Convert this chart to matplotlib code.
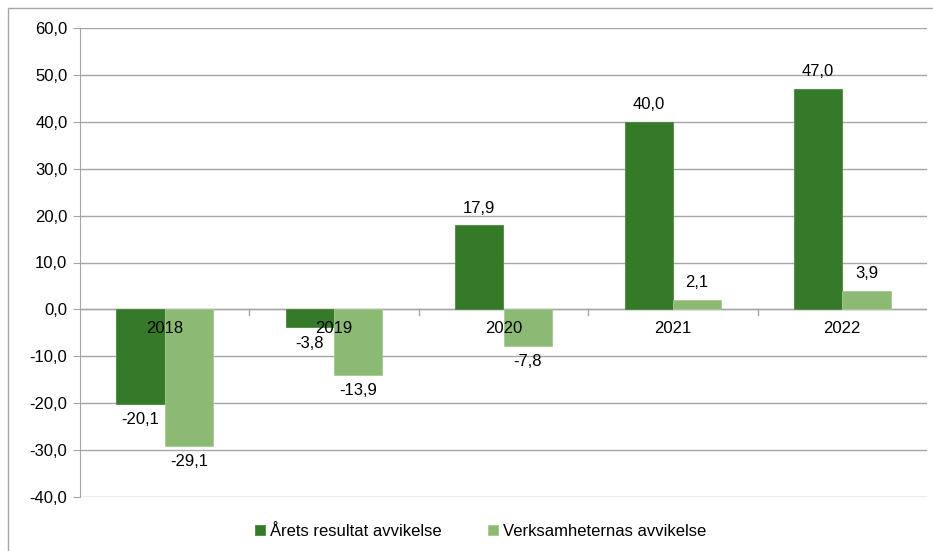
import matplotlib.pyplot as plt
import numpy as np
from matplotlib.patches import Rectangle

plt.rcParams['font.family'] = ['Liberation Sans', 'DejaVu Sans']

years = ["2018", "2019", "2020", "2021", "2022"]
arets = [-20.1, -3.8, 17.9, 40.0, 47.0]
verks = [-29.1, -13.9, -7.8, 2.1, 3.9]
series_names = ["Årets resultat avvikelse", "Verksamheternas avvikelse"]

dark = "#357a29"
light = "#8cba74"
fs = 12

def fmt(v):
    return f"{v:.1f}".replace(".", ",")

fig = plt.figure(figsize=(9.33, 5.51), dpi=100)
ax = fig.add_axes([80 / 933, 1 - 497 / 551, 847 / 933, 469 / 551])

x = np.arange(len(years))
w = 0.285
b1 = ax.bar(x - w / 2, arets, w, color=dark, edgecolor="#4a8a3e", linewidth=0.6,
            label=series_names[0], zorder=3)
b2 = ax.bar(x + w / 2, verks, w, color=light, edgecolor="#a3cc90", linewidth=0.6,
            label=series_names[1], zorder=3)

for bars, vals in ((b1, arets), (b2, verks)):
    for r, v in zip(bars, vals):
        cx = r.get_x() + r.get_width() / 2
        if v >= 0:
            ax.annotate(fmt(v), (cx, v), xytext=(0, 7), textcoords="offset points",
                        ha="center", va="bottom", fontsize=fs)
        else:
            ax.annotate(fmt(v), (cx, v), xytext=(0, -6), textcoords="offset points",
                        ha="center", va="top", fontsize=fs)

for i, y in enumerate(years):
    ax.annotate(y, (i, 0), xytext=(0, -8), textcoords="offset points",
                ha="center", va="top", fontsize=fs, zorder=4)

ax.set_xlim(-0.5, len(years) - 0.5)
ax.set_ylim(-40, 60)
ax.set_yticks(np.arange(-40, 61, 10))
ax.set_yticklabels([fmt(v) for v in np.arange(-40, 61, 10)], fontsize=fs)
ax.yaxis.grid(True, color="#a6a6a6", linewidth=1, zorder=0)
ax.set_xticks([])
ax.axhline(0, color="#a6a6a6", linewidth=1, zorder=2)
for b in np.arange(0.5, len(years) - 0.5, 1):
    ax.plot([b, b], [0, -1.2], color="#a6a6a6", linewidth=1, zorder=2)
for s in ("top", "right", "bottom"):
    ax.spines[s].set_visible(False)
ax.spines["left"].set_color("#a6a6a6")
ax.tick_params(axis="y", color="#a6a6a6", length=5, pad=4)

fig.legend(loc="lower center", bbox_to_anchor=(0.515, -0.005), ncol=2, frameon=False,
           fontsize=fs, handlelength=0.6, handleheight=0.6, handletextpad=0.3,
           columnspacing=2.8)

fig.patches.append(Rectangle((8 / 933, -0.01), 1, 1 - 8 / 551 + 0.01, transform=fig.transFigure,
                             fill=False, edgecolor="#a6a6a6", linewidth=1))

fig.savefig("out.png", dpi=100)
